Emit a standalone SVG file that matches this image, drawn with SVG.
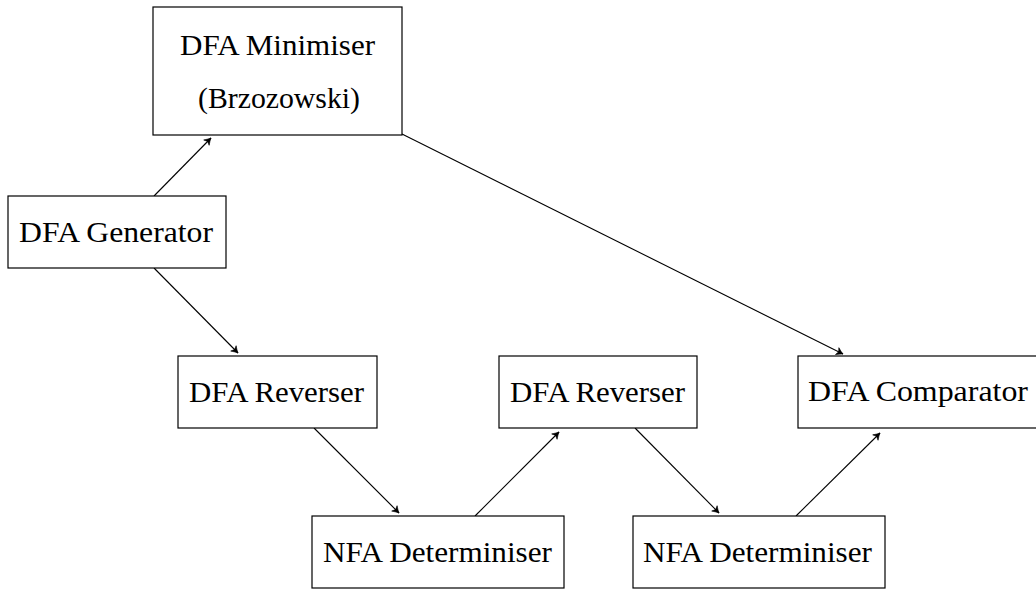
<svg xmlns="http://www.w3.org/2000/svg" width="1036" height="590" viewBox="0 0 1036 590">
<style>
.box{fill:#fff;stroke:#000;stroke-width:1.2}
.lbl{font-size:30px;fill:#000;text-anchor:middle}
.edge{stroke:#000;stroke-width:1.1;fill:none;marker-end:url(#arr)}
</style>
<defs>
<marker id="arr" viewBox="-8 -5 10 10" refX="0" refY="0" markerWidth="10" markerHeight="10" markerUnits="userSpaceOnUse" orient="auto">
<path d="M-6.5,-3.8 Q-2.5,-1 0,0 Q-2.5,1 -6.5,3.8 L-4.8,0 Z" fill="#000" stroke="#000" stroke-width="0.6" stroke-linejoin="round"/>
</marker>
</defs>
<rect width="1036" height="590" fill="#fff"/>
<g id="connectors">
<line class="edge" x1="154" y1="196" x2="211" y2="138"/>
<line class="edge" x1="154" y1="268" x2="238" y2="353"/>
<line class="edge" x1="402" y1="134" x2="843" y2="354"/>
<line class="edge" x1="314" y1="428" x2="399" y2="513"/>
<line class="edge" x1="475" y1="516" x2="559" y2="432"/>
<line class="edge" x1="635" y1="428" x2="719" y2="513"/>
<line class="edge" x1="796" y1="516" x2="880" y2="433"/>
</g>
<g font-family="'Liberation Serif', 'Times New Roman', serif">
<g id="minimiser">
<rect class="box" x="153" y="7" width="249" height="128"/>
<text class="lbl" x="277.5" y="55" textLength="195" lengthAdjust="spacingAndGlyphs">DFA Minimiser</text>
<text class="lbl" x="279" y="108" textLength="162" lengthAdjust="spacingAndGlyphs">(Brzozowski)</text>
</g>
<g id="generator">
<rect class="box" x="8" y="196" width="218" height="72"/>
<text class="lbl" x="116" y="242" textLength="194" lengthAdjust="spacingAndGlyphs">DFA Generator</text>
</g>
<g id="reverser1">
<rect class="box" x="178" y="356" width="199" height="72"/>
<text class="lbl" x="276.5" y="402" textLength="175" lengthAdjust="spacingAndGlyphs">DFA Reverser</text>
</g>
<g id="reverser2">
<rect class="box" x="499" y="356" width="198" height="72"/>
<text class="lbl" x="597.5" y="402" textLength="175" lengthAdjust="spacingAndGlyphs">DFA Reverser</text>
</g>
<g id="determiniser1">
<rect class="box" x="312" y="516" width="252" height="72"/>
<text class="lbl" x="437.5" y="562" textLength="229" lengthAdjust="spacingAndGlyphs">NFA Determiniser</text>
</g>
<g id="determiniser2">
<rect class="box" x="633" y="516" width="252" height="72"/>
<text class="lbl" x="757.5" y="562" textLength="229" lengthAdjust="spacingAndGlyphs">NFA Determiniser</text>
</g>
<g id="comparator">
<rect class="box" x="798" y="356" width="242" height="72"/>
<text class="lbl" x="918" y="401" textLength="220" lengthAdjust="spacingAndGlyphs">DFA Comparator</text>
</g>
</g>
</svg>
